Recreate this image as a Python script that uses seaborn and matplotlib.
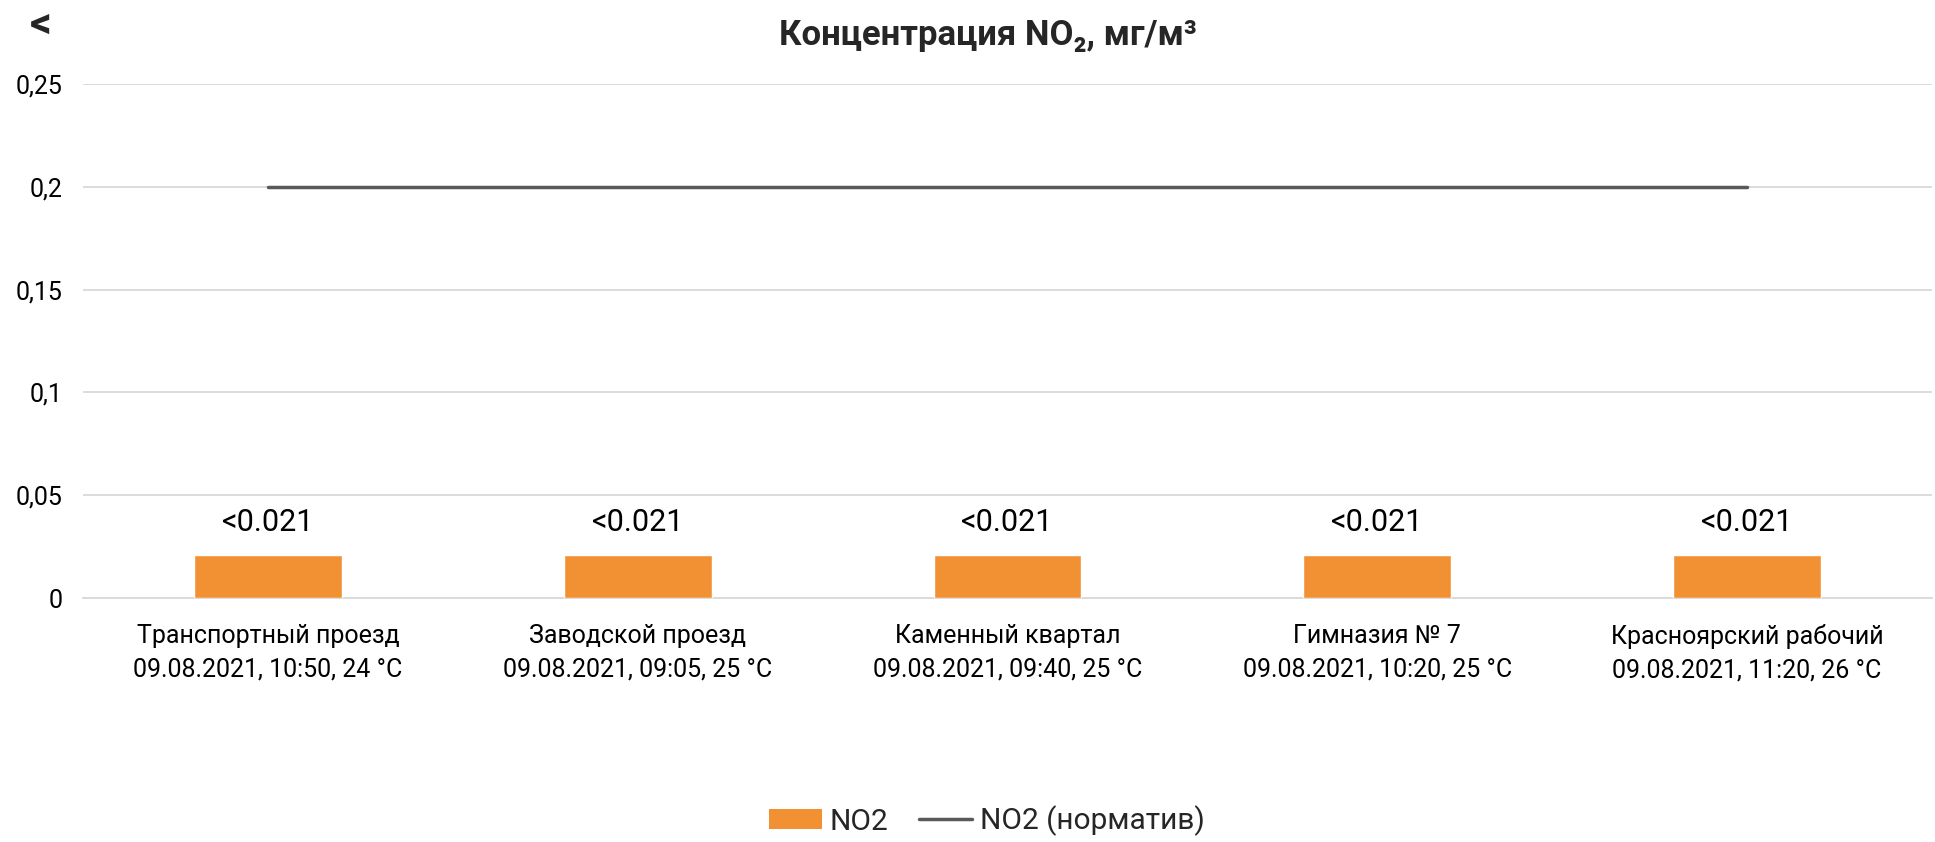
import numpy as np
import pandas as pd
import matplotlib
matplotlib.use("Agg")
import matplotlib.pyplot as plt
import seaborn as sns
from matplotlib.patches import Patch
from matplotlib.lines import Line2D

# ---- data ----
stations = ["Транспортный проезд", "Заводской проезд", "Каменный квартал",
            "Гимназия № 7", "Красноярский рабочий"]
details = ["09.08.2021, 10:50, 24 °C", "09.08.2021, 09:05, 25 °C",
           "09.08.2021, 09:40, 25 °C", "09.08.2021, 10:20, 25 °C",
           "09.08.2021, 11:20, 26 °C"]
no2_values = [0.021, 0.021, 0.021, 0.021, 0.021]
no2_labels = ["<0.021", "<0.021", "<0.021", "<0.021", "<0.021"]
no2_norm = [0.2, 0.2, 0.2, 0.2, 0.2]
y_ticks = [0, 0.05, 0.1, 0.15, 0.2, 0.25]
title = "Концентрация NO₂, мг/м³"
series_names = ["NO2", "NO2 (норматив)"]

BAR_COLOR = "#F29133"
LINE_COLOR = "#595959"
GRID_COLOR = "#D9D9D9"

sns.set_style("white")
plt.rcParams["font.family"] = ["Roboto", "DejaVu Sans"]

W, H = 1935, 842
fig = plt.figure(figsize=(W / 100, H / 100), dpi=100)
ax = fig.add_axes([83 / W, 1 - 598 / H, (1932 - 83) / W, (598 - 84) / H])

categories = [f"{s}\n{d}" for s, d in zip(stations, details)]
df = pd.DataFrame({"cat": categories, "val": no2_values, "norm": no2_norm})

sns.barplot(data=df, x="cat", y="val", color=BAR_COLOR, saturation=1,
            width=0.4, ax=ax, zorder=3)
sns.lineplot(x=np.arange(len(categories)), y=df["norm"], color=LINE_COLOR,
             lw=2.5, ax=ax, zorder=4, solid_capstyle="round")

ax.bar_label(ax.containers[0], labels=no2_labels, padding=12.5, fontsize=22,
             color="black")

ax.set_xlim(-0.5, len(categories) - 0.5)
ax.set_ylim(0, 0.25)
ax.set_yticks(y_ticks)
ax.set_yticklabels([f"{v:g}".replace(".", ",") for v in y_ticks])
ax.tick_params(axis="y", length=0, pad=15, labelsize=18, labelcolor="black")
ax.tick_params(axis="x", which="major", length=0, pad=19, labelsize=18,
               labelcolor="black")
for lbl in ax.get_xticklabels():
    lbl.set_linespacing(1.48)
ax.set_xticks(np.arange(-0.5, len(categories)), minor=True)
ax.tick_params(axis="x", which="minor", length=10, width=1.2, color=GRID_COLOR)
ax.set_xlabel("")
ax.set_ylabel("")

ax.yaxis.grid(True, color=GRID_COLOR, lw=1.3)
ax.set_axisbelow(True)
for s in ["left", "top", "right"]:
    ax.spines[s].set_visible(False)
ax.spines["bottom"].set_color(GRID_COLOR)
ax.spines["bottom"].set_linewidth(1.3)

fig.text(988 / W, 1 - 36 / H, title, ha="center", va="center",
         fontsize=25, fontweight="bold", family=["Roboto", "DejaVu Sans"])
fig.text(41 / W, 1 - 25 / H, "<", ha="center", va="center",
         fontsize=31, fontweight="bold")

handles = [Patch(facecolor=BAR_COLOR, edgecolor="none"),
           Line2D([0], [0], color=LINE_COLOR, lw=2.5)]
fig.legend(handles, series_names, loc="center", ncol=2, frameon=False,
           bbox_to_anchor=(987 / W, 1 - 821 / H), fontsize=21.5,
           handlelength=1.75, handleheight=0.63, handletextpad=0.27,
           columnspacing=1.03)

fig.savefig("out.png", dpi=100)
